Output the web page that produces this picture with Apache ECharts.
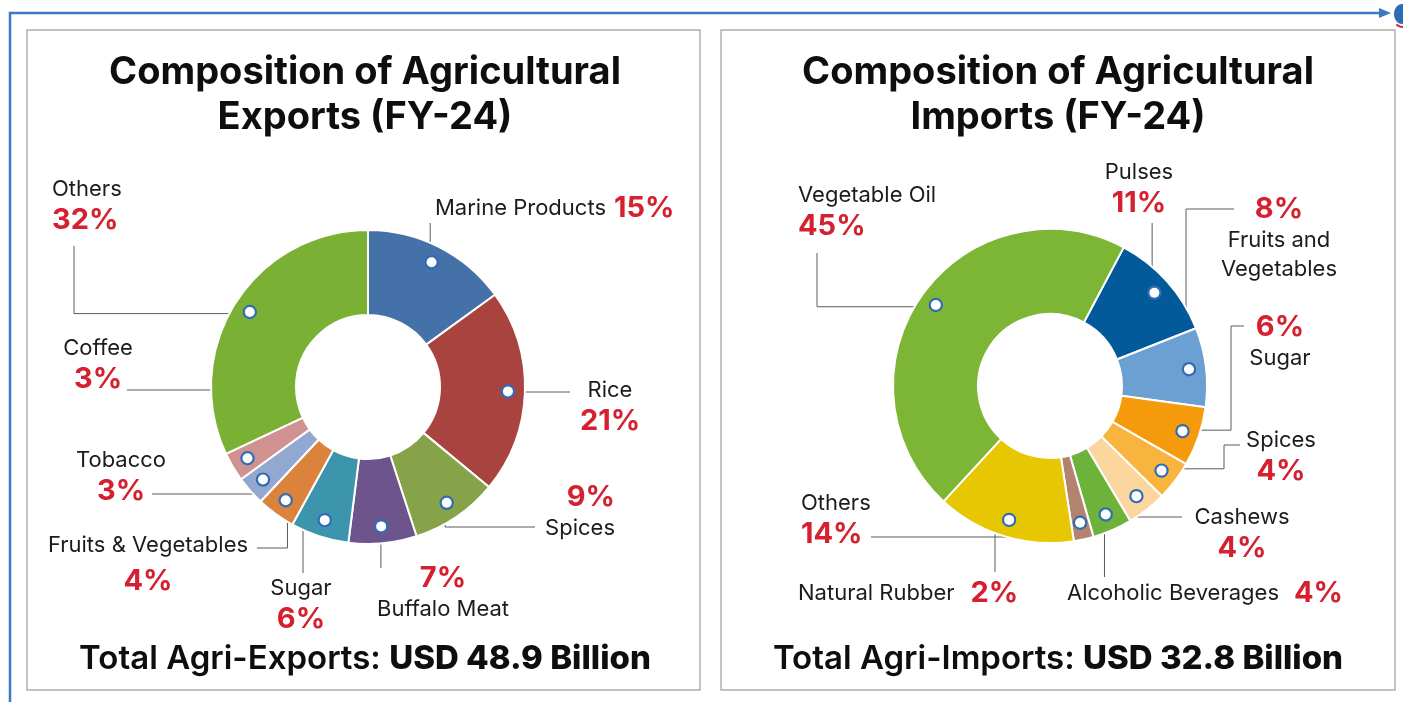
<!DOCTYPE html>
<html>
<head>
<meta charset="utf-8">
<title>Composition of Agricultural Exports and Imports (FY-24)</title>
<script src="https://cdn.jsdelivr.net/npm/echarts@6/dist/echarts.min.js"></script>
<style>
  html, body { margin: 0; padding: 0; background: #fff; }
  #chart { width: 1403px; height: 702px; }
</style>
</head>
<body>
<div id="chart"></div>
<script>
  // ---- data (share of total, %) ----
  const exportNames = ['Marine Products', 'Rice', 'Spices', 'Buffalo Meat', 'Sugar',
    'Fruits & Vegetables', 'Tobacco', 'Coffee', 'Others'];
  const exportShares = [15, 21, 9, 7, 6, 4, 3, 3, 32];
  const exportTotal = 'USD 48.9 Billion';

  const importNames = ['Pulses', 'Fruits and Vegetables', 'Sugar', 'Spices', 'Cashews',
    'Alcoholic Beverages', 'Natural Rubber', 'Others', 'Vegetable Oil'];
  const importShares = [11, 8, 6, 4, 4, 4, 2, 14, 45];
  const importTotal = 'USD 32.8 Billion';

  // ---- styles ----
  const exportColors = ['#4471a8', '#a9433f', '#87a34a', '#6d548d', '#3c95ad',
    '#db833c', '#93a8d0', '#d09291', '#7ab134'];
  const importColors = ['#035a9b', '#6c9fd2', '#f59a0b', '#f8b43d', '#fbd69e',
    '#6cb23b', '#b4836f', '#e6c702', '#7db535'];

  const FONT = 'Inter';
  const R_IN = 72, R_OUT = 157, DOT_R = 137;
  const expCenter = [368, 387];
  const impCenter = [1050, 386];

  // label placement: anchor, alignment, leader-line route
  const exportLabelPos = {
    'Marine Products': { form: 'np', x: 435, y: 208, align: 'left', route: 'vh', end: [null, 223], gap: 8 },
    'Rice': { form: 'n/p', x: 610, y: 407, align: 'center', route: 'vh', end: [570, 392] },
    'Spices': { form: 'p/n', x: 615, y: 512, align: 'right', route: 'vh', end: [535, 527] },
    'Buffalo Meat': { form: 'p/n', x: 443, y: 593, align: 'center', route: 'vh', end: [null, 568] },
    'Sugar': { form: 'n/p', x: 301, y: 605, align: 'center', route: 'hv', end: [303, 573] },
    'Fruits & Vegetables': { form: 'n/p', x: 148, y: 567, align: 'center', route: 'vh', end: [257, 548], pStyle: 'pw' },
    'Tobacco': { form: 'n/p', x: 121, y: 477, align: 'center', route: 'vh', end: [152, 494] },
    'Coffee': { form: 'n/p', x: 98, y: 365, align: 'center', route: 'vh', end: [127, 390] },
    'Others': { form: 'n/p', x: 52, y: 206, align: 'left', route: 'hv', end: [74, 246] }
  };
  const importLabelPos = {
    'Pulses': { form: 'n/p', x: 1139, y: 189, align: 'center', route: 'vh', end: [null, 223] },
    'Fruits and Vegetables': { form: 'p/n', display: 'Fruits and\nVegetables', x: 1279, y: 238, align: 'center', route: 'vh', end: [1234, 209] },
    'Sugar': { form: 'p/n', x: 1280, y: 342, align: 'center', route: 'hvh', x1: 1231, end: [1244, 326] },
    'Spices': { form: 'n/p', x: 1281, y: 457, align: 'center', route: 'hvh', x1: 1224, end: [1240, 445] },
    'Cashews': { form: 'n/p', x: 1242, y: 534, align: 'center', route: 'vh', end: [1182, 517] },
    'Alcoholic Beverages': { form: 'np', x: 1067, y: 593, align: 'left', route: 'vh', end: [null, 577], gap: 15 },
    'Natural Rubber': { form: 'np', x: 798, y: 593, align: 'left', route: 'hv', end: [995, 572], gap: 16 },
    'Others': { form: 'n/p', x: 801, y: 520, align: 'left', route: 'vh', end: [871, 537] },
    'Vegetable Oil': { form: 'n/p', x: 798, y: 212, align: 'left', route: 'hv', end: [817, 253] }
  };

  const labelRich = {
    n: { fontFamily: FONT, fontSize: 22, color: '#1c1c1c', lineHeight: 29 },
    p: { fontFamily: FONT, fontSize: 29, fontWeight: 700, color: '#d4202f', lineHeight: 33 },
    pw: { fontFamily: FONT, fontSize: 29, fontWeight: 700, color: '#d4202f', lineHeight: 44 }
  };

  function labelText(name, value, lay) {
    const nm = (lay.display || name).split('\n').map(s => '{n|' + s + '}').join('\n');
    const pc = '{' + (lay.pStyle || 'p') + '|' + value + '%}';
    if (lay.form === 'np') return nm + '{g' + lay.gap + '| }' + pc;
    if (lay.form === 'p/n') return pc + '\n' + nm;
    return nm + '\n' + pc;
  }

  // gap tokens between name and percentage on one-line labels
  [exportLabelPos, importLabelPos].forEach(function (pos) {
    Object.keys(pos).forEach(function (k) {
      if (pos[k].gap) labelRich['g' + pos[k].gap] = { width: pos[k].gap };
    });
  });

  function makeLabelLayout(names, layouts, center) {
    return function (params) {
      const lay = layouts[names[params.dataIndex]];
      // start of the default leader line lies on the slice's mid angle
      const p0 = params.labelLinePoints[0];
      const dx = p0[0] - center[0], dy = p0[1] - center[1];
      const len = Math.sqrt(dx * dx + dy * dy) || 1;
      const dot = [center[0] + dx / len * DOT_R, center[1] + dy / len * DOT_R];
      const ex = lay.end[0] == null ? dot[0] : lay.end[0];
      const ey = lay.end[1];
      let pts;
      if (lay.route === 'vh') pts = [dot, [dot[0], ey], [ex, ey]];
      else if (lay.route === 'hv') pts = [dot, [ex, dot[1]], [ex, ey]];
      else pts = [dot, [lay.x1, dot[1]], [lay.x1, ey], [ex, ey]];
      return { x: lay.x, y: lay.y, align: lay.align, verticalAlign: 'middle', labelLinePoints: pts };
    };
  }

  function donut(names, values, colors, layouts, center, startAngle) {
    return {
      type: 'pie',
      center: center,
      radius: [R_IN, R_OUT],
      startAngle: startAngle,
      clockwise: true,
      avoidLabelOverlap: false,
      itemStyle: { borderColor: '#fff', borderWidth: 2 },
      label: {
        show: true,
        position: 'outside',
        formatter: (p) => labelText(p.name, p.value, layouts[p.name]),
        rich: labelRich
      },
      labelLine: { show: true, smooth: false, lineStyle: { color: '#5a5a5a', width: 1 } },
      labelLayout: makeLabelLayout(names, layouts, center),
      emphasis: { disabled: true },
      data: names.map((n, i) => ({ name: n, value: values[i], itemStyle: { color: colors[i] } }))
    };
  }

  // white anchor dots sitting on each slice's mid angle
  function dots(names, values, center, startAngle) {
    return {
      type: 'pie',
      center: center,
      radius: [DOT_R - 10, DOT_R + 10],
      startAngle: startAngle,
      clockwise: true,
      silent: true,
      z: 5,
      avoidLabelOverlap: false,
      itemStyle: { color: 'rgba(0,0,0,0)' },
      label: {
        show: true,
        position: 'inside',
        formatter: '{d| }',
        rich: {
          d: { width: 10, height: 10, borderRadius: 7, backgroundColor: '#fff', borderColor: '#2f6cb5', borderWidth: 2.2 }
        }
      },
      labelLine: { show: false },
      data: names.map((n, i) => ({ name: n, value: values[i] }))
    };
  }

  const chart = echarts.init(document.getElementById('chart'));

  const titleStyle = { fontFamily: FONT, fontSize: 38, fontWeight: 700, color: '#0e0e0e', lineHeight: 45 };
  const totalRich = {
    a: { fontFamily: FONT, fontSize: 33, fontWeight: 600, color: '#0e0e0e' },
    b: { fontFamily: FONT, fontSize: 33, fontWeight: 800, color: '#0e0e0e' }
  };

  const option = {
    animation: false,
    backgroundColor: '#fff',
    title: [
      { text: 'Composition of Agricultural\nExports (FY-24)', left: 365, top: 50, padding: 0, textAlign: 'center', textStyle: titleStyle },
      { text: 'Composition of Agricultural\nImports (FY-24)', left: 1058, top: 50, padding: 0, textAlign: 'center', textStyle: titleStyle },
      { text: '{a|Total Agri-Exports: }{b|' + exportTotal + '}', left: 365, top: 643, padding: 0, textAlign: 'center', textStyle: { rich: totalRich } },
      { text: '{a|Total Agri-Imports: }{b|' + importTotal + '}', left: 1058, top: 643, padding: 0, textAlign: 'center', textStyle: { rich: totalRich } }
    ],
    graphic: [
      { type: 'rect', shape: { x: 27, y: 30, width: 673, height: 660 }, style: { fill: null, stroke: '#b0b0b0', lineWidth: 1.5 } },
      { type: 'rect', shape: { x: 721, y: 30, width: 674, height: 660 }, style: { fill: null, stroke: '#b0b0b0', lineWidth: 1.5 } },
      { type: 'polyline', shape: { points: [[10, 702], [10, 13], [1382, 13]] }, style: { stroke: '#3b79c4', lineWidth: 2.5, fill: null } },
      { type: 'polygon', shape: { points: [[1379, 8], [1391, 13], [1379, 18]] }, style: { fill: '#3b79c4' } },
      { type: 'arc', shape: { cx: 1403, cy: 17, r: 10, startAngle: 0.6, endAngle: 2.3 }, style: { stroke: '#d4202f', lineWidth: 2, fill: null } },
      { type: 'ellipse', shape: { cx: 1402, cy: 14, rx: 8, ry: 10 }, style: { fill: '#2f6cb5' } }
    ],
    series: [
      donut(exportNames, exportShares, exportColors, exportLabelPos, expCenter, 90),
      dots(exportNames, exportShares, expCenter, 90),
      donut(importNames, importShares, importColors, importLabelPos, impCenter, 62),
      dots(importNames, importShares, impCenter, 62)
    ]
  };

  chart.setOption(option);
</script>
</body>
</html>
